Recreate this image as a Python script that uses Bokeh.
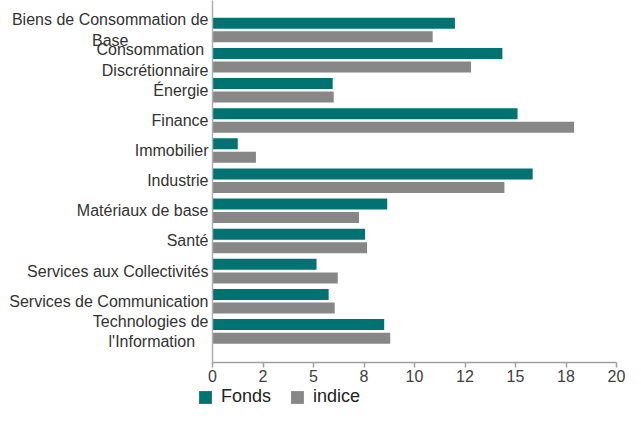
from bokeh.plotting import figure
from bokeh.models import Range1d, FixedTicker, Legend, LegendItem, ColumnDataSource
from bokeh.layouts import column, row
from bokeh.transform import dodge
from bokeh.embed import file_html
from bokeh.resources import INLINE

NB = "\u00a0"
categories = [
    "Biens de Consommation de\nBase" + NB * 18,
    "Consommation \nDiscrétionnaire",
    "Énergie",
    "Finance",
    "Immobilier",
    "Industrie",
    "Matériaux de base",
    "Santé",
    "Services aux Collectivités",
    "Services de Communication",
    "Technologies de\nl'Information" + NB * 3,
]
fonds = [12.0, 14.35, 5.95, 15.1, 1.25, 15.85, 8.65, 7.55, 5.15, 5.75, 8.5]
indice = [10.9, 12.8, 6.0, 17.9, 2.15, 14.45, 7.25, 7.65, 6.2, 6.05, 8.8]
x_ticks = [0, 2.5, 5, 7.5, 10, 12.5, 15, 17.5, 20]
x_tick_labels = ["0", "2", "5", "8", "10", "12", "15", "18", "20"]
series_names = ["Fonds", "indice"]
series_colors = ["#007272", "#878787"]

FONT = "Liberation Sans"
pos = list(range(len(categories)))
src = ColumnDataSource(dict(pos=pos, fonds=fonds, indice=indice))

FRAME_H = 362.0
PITCH = 30.13
top = -29.5 / PITCH
bottom = top + FRAME_H / PITCH

p = figure(width=625, height=386, output_backend="svg", toolbar_location=None,
           x_range=Range1d(0, 20), y_range=Range1d(bottom, top))
p.min_border = 0
p.min_border_left = 212
p.min_border_right = 9
p.min_border_top = 0
p.min_border_bottom = 24
p.outline_line_color = None
p.background_fill_color = "white"
p.border_fill_color = "white"
p.xgrid.visible = False
p.ygrid.visible = False

r1 = p.hbar(y=dodge("pos", -0.222), left=0, right="fonds", height=0.365,
            source=src, fill_color=series_colors[0], line_color=None)
r2 = p.hbar(y=dodge("pos", 0.227), left=0, right="indice", height=0.365,
            source=src, fill_color=series_colors[1], line_color=None)

xa = p.xaxis[0]
xa.ticker = FixedTicker(ticks=x_ticks)
xa.major_label_overrides = {t: l for t, l in zip(x_ticks, x_tick_labels)}
xa.axis_line_color = "#a0a0a0"
xa.axis_line_width = 1.5
xa.major_tick_line_color = "#a0a0a0"
xa.major_tick_line_width = 1.5
xa.major_tick_out = 5
xa.major_tick_in = 0
xa.minor_tick_line_color = None
xa.major_label_text_font = FONT
xa.major_label_text_font_size = "16px"
xa.major_label_text_color = "#404040"
xa.major_label_standoff = 2

ya = p.yaxis[0]
ya.ticker = FixedTicker(ticks=pos)
ya.major_label_overrides = {i: c for i, c in zip(pos, categories)}
ya.axis_line_color = "#b0b0b0"
ya.axis_line_width = 1.5
ya.major_tick_line_color = None
ya.minor_tick_line_color = None
ya.major_tick_out = 0
ya.major_tick_in = 0
ya.major_label_text_font = FONT
ya.major_label_text_font_size = "16px"
ya.major_label_text_color = "#333333"
ya.major_label_standoff = 4

# legend strip below the chart
lg = figure(width=625, height=21, output_backend="svg", toolbar_location=None,
            x_range=Range1d(0, 1), y_range=Range1d(0, 1))
lg.min_border = 0
lg.outline_line_color = None
lg.axis.visible = False
lg.xgrid.visible = False
lg.ygrid.visible = False
swatch = ColumnDataSource(dict(y=[0.5], left=[0], right=[0]))
s1 = lg.hbar(y="y", left="left", right="right", height=0.0, source=swatch,
             fill_color=series_colors[0], line_color=None)
s2 = lg.hbar(y="y", left="left", right="right", height=0.0, source=swatch,
             fill_color=series_colors[1], line_color=None)
legend = Legend(items=[LegendItem(label=series_names[0], renderers=[s1]),
                       LegendItem(label=series_names[1], renderers=[s2])],
                orientation="horizontal", location=(197, 0),
                padding=0, margin=0, spacing=18,
                glyph_width=16, glyph_height=16, label_standoff=8,
                label_text_font=FONT, label_text_font_size="18px",
                label_text_color="#222222", label_height=16,
                border_line_color=None, background_fill_alpha=0)
lg.add_layout(legend, "center")

layout = column(p, row(lg), spacing=0)
open("out.html", "w").write(file_html(layout, INLINE))
